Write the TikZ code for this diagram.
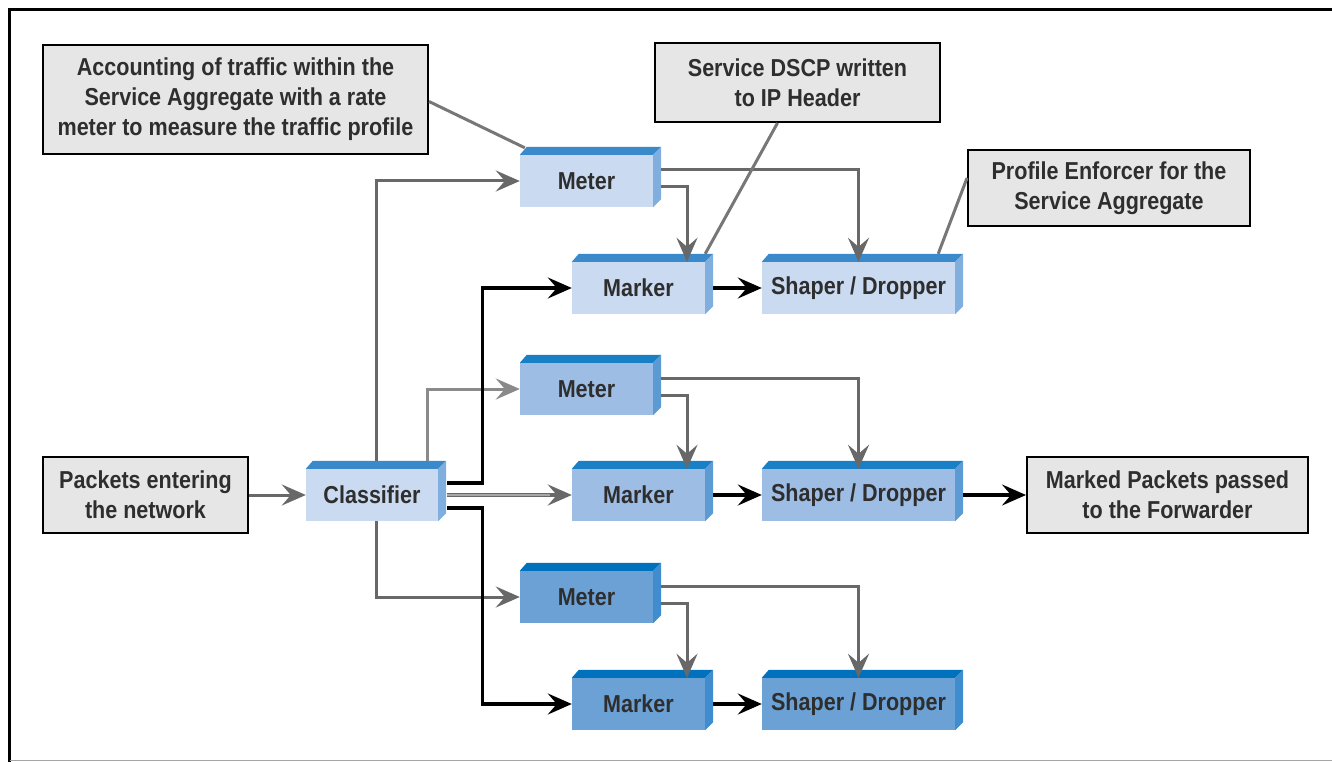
\documentclass[tikz,border=0pt]{standalone}
\usepackage{fontspec}
\setmainfont{Liberation Sans}[FakeStretch=0.88]
\usetikzlibrary{arrows.meta}

% palette
\definecolor{notefill}{HTML}{E6E6E6}
\definecolor{txt}{HTML}{2E2E2E}
\definecolor{conn}{HTML}{686868}
\definecolor{connlight}{HTML}{8A8A8A}
\definecolor{leader}{HTML}{777777}
\definecolor{frontA}{HTML}{CADAF0}
\definecolor{topA}{HTML}{3A8ACB}
\definecolor{sideA}{HTML}{80AEDE}
\definecolor{frontB}{HTML}{9DBDE4}
\definecolor{topB}{HTML}{1A80C6}
\definecolor{sideB}{HTML}{5C9AD4}
\definecolor{frontC}{HTML}{6CA1D6}
\definecolor{topC}{HTML}{0072BD}
\definecolor{sideC}{HTML}{3F8DCE}

\newcommand\labelfont{\bfseries\fontsize{24.5}{30}\selectfont}

% top and right faces of a box drawn as a slab
\newcommand\slab[3]{%
  \fill[#2] (#1.north west) -- ++(7,-8) -- ([shift={(8,-8)}]#1.north east) -- (#1.north east) -- cycle;
  \fill[#3] (#1.north east) -- ([shift={(8,-8)}]#1.north east) -- ([shift={(8,-8)}]#1.south east) -- (#1.south east) -- cycle;
}

\tikzset{
  note/.style={draw=black, line width=2pt, fill=notefill, text=txt, align=center,
               font=\labelfont, inner sep=0pt},
  unit/.style={text=txt, font=\labelfont, inner sep=0pt, minimum height=52pt},
  rowA/.style={unit, fill=frontA},
  rowB/.style={unit, fill=frontB},
  rowC/.style={unit, fill=frontC},
  tip/.style={-{Stealth[length=24pt,width=21pt,inset=9pt]}},
  gconn/.style={tip, draw=conn, line width=3pt},
  gconnlight/.style={tip, draw=connlight, line width=3pt},
  bconn/.style={tip, draw=black, line width=3.2pt},
  leaderline/.style={draw=leader, line width=3pt},
}

\begin{document}
\begin{tikzpicture}[x=1pt, y=-1pt]
\useasboundingbox (0,0) rectangle (1332,762);

% frame
\draw[black, line width=3.5pt] (9.5,762) -- (9.5,9.5) -- (1332,9.5);
\draw[gray!70, line width=1.5pt] (9.5,760.5) -- (1332,760.5);

% callouts
\node[note, minimum width=385pt, minimum height=109pt] (acc) at (235.5,99.5)
  {Accounting of traffic within the\\Service Aggregate with a rate\\meter to measure the traffic profile};
\node[note, minimum width=285pt, minimum height=79pt] (dscp) at (797.5,82.5)
  {Service DSCP written\\to IP Header};
\node[note, minimum width=282pt, minimum height=76pt] (pf) at (1109,188)
  {Profile Enforcer for the\\Service Aggregate};
\node[note, minimum width=205pt, minimum height=76pt] (in) at (145.5,495)
  {Packets entering\\the network};
\node[note, minimum width=281pt, minimum height=76pt] (out) at (1167.5,495)
  {Marked Packets passed\\to the Forwarder};

% classifier
\node[rowA, minimum width=132pt] (cl) at (372,495) {Classifier};
\slab{cl}{topA}{sideA}

% first service row
\node[rowA, minimum width=133pt] (m1) at (586.5,181) {Meter};
\node[rowA, minimum width=133pt] (mk1) at (638.5,288) {Marker};
\node[rowA, minimum width=193pt] (s1) at (858.5,288) {Shaper / Dropper};
\slab{m1}{topA}{sideA}
\slab{mk1}{topA}{sideA}
\slab{s1}{topA}{sideA}

% second service row
\node[rowB, minimum width=133pt] (m2) at (586.5,389) {Meter};
\node[rowB, minimum width=133pt] (mk2) at (638.5,495) {Marker};
\node[rowB, minimum width=193pt] (s2) at (858.5,495) {Shaper / Dropper};
\slab{m2}{topB}{sideB}
\slab{mk2}{topB}{sideB}
\slab{s2}{topB}{sideB}

% third service row
\node[rowC, minimum width=133pt] (m3) at (586.5,597) {Meter};
\node[rowC, minimum width=133pt] (mk3) at (638.5,704) {Marker};
\node[rowC, minimum width=193pt] (s3) at (858.5,704) {Shaper / Dropper};
\slab{m3}{topC}{sideC}
\slab{mk3}{topC}{sideC}
\slab{s3}{topC}{sideC}

% input to classifier
\draw[gconn] (in.east) -- (cl.west);

% classifier to meters
\draw[gconn] ([shift={(4,-8)}]cl.north) |- (m1.west);
\draw[gconnlight] ([shift={(55,-8)}]cl.north) |- (m2.west);
\draw[gconn] ([xshift=4pt]cl.south) |- (m3.west);

% classifier to markers
\draw[bconn] ([shift={(9,-12)}]cl.east) -- ++(35,0) |- (mk1.west);
\draw[tip, draw=conn, line width=4.5pt] ([xshift=9pt]cl.east) -- (mk2.west);
\draw[draw=connlight!75, line width=1.4pt, shorten >=22pt] ([xshift=9pt]cl.east) -- (mk2.west);
\draw[bconn] ([shift={(9,13)}]cl.east) -- ++(35,0) |- (mk3.west);

% meters to markers and shapers
\foreach \r in {1,2,3}{
  \draw[gconn] ([shift={(8,6)}]m\r.east) -| ([xshift=48.5pt]mk\r.north);
  \draw[gconn] ([shift={(8,-11)}]m\r.east) -| (s\r.north);
  \draw[bconn] ([xshift=8pt]mk\r.east) -- (s\r.west);
}

% output
\draw[bconn] ([xshift=8pt]s2.east) -- (out.west);

% callout leaders
\draw[leaderline] ([yshift=-2pt]acc.east) -- ([shift={(5,-7)}]m1.north west);
\draw[leaderline] ([xshift=-20pt]dscp.south) -- ([shift={(0,-8)}]mk1.north east);
\draw[leaderline] ([yshift=10pt]pf.west) -- ([shift={(-17,-8)}]s1.north east);
\end{tikzpicture}
\end{document}
